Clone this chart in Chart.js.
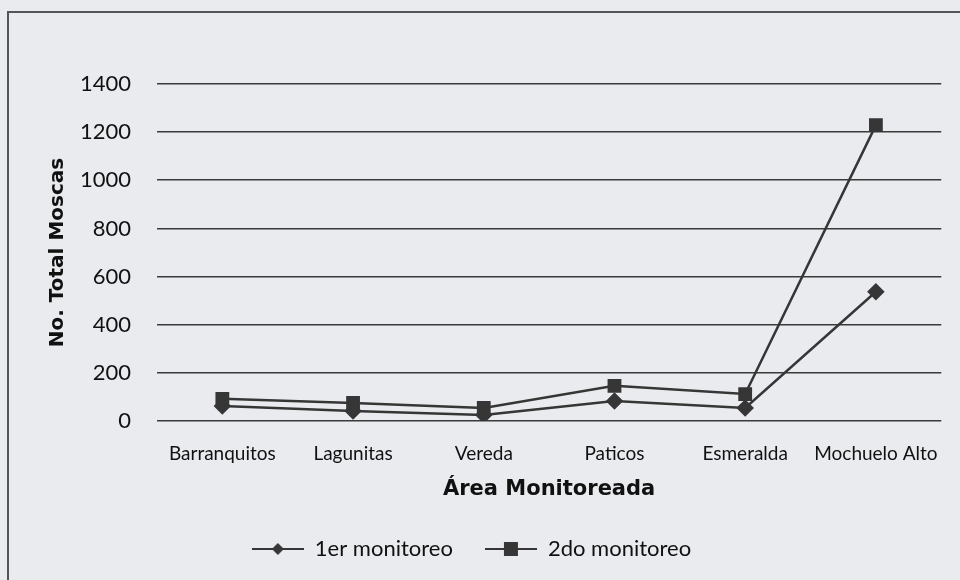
<!DOCTYPE html>
<html>
<head>
<meta charset="utf-8">
<script src="https://cdn.jsdelivr.net/npm/chart.js@4.4.1/dist/chart.umd.min.js"></script>
<style>
  html, body { margin: 0; padding: 0; background: #e9ebee; }
  #marco { position: absolute; left: 0; top: 0; width: 960px; height: 580px; }
  #borde { position: absolute; left: 7px; top: 11px; width: 960px; height: 580px;
           border-left: 2px solid #555; border-top: 2px solid #555; }
  canvas { position: absolute; left: 0; top: 0; }
</style>
</head>
<body>
<div id="marco">
  <div id="borde"></div>
  <canvas id="graficoMoscas" width="960" height="580"></canvas>
</div>
<script>
// datos
const areas = ['Barranquitos', 'Lagunitas', 'Vereda', 'Paticos', 'Esmeralda', 'Mochuelo Alto'];
const primerMonitoreo = [62, 42, 25, 83, 54, 537];
const segundoMonitoreo = [92, 75, 54, 146, 112, 1229];
const ticksY = [0, 200, 400, 600, 800, 1000, 1200, 1400];

const colorLinea = '#363636';

// icono de leyenda: linea con marcador
function iconoLeyenda(forma){
    const c = document.createElement('canvas');
    c.width = 52; c.height = 16;
    const g = c.getContext('2d');
    g.strokeStyle = colorLinea;
    g.fillStyle = colorLinea;
    g.lineWidth = 2;
    g.beginPath();
    g.moveTo(0, 8); g.lineTo(52, 8);
    g.stroke();
    g.beginPath();
    if (forma === 'rombo') {
        g.moveTo(26, 2); g.lineTo(32, 8); g.lineTo(26, 14); g.lineTo(20, 8);
    } else {
        g.rect(19, 1, 14, 14);
    }
    g.closePath();
    g.fill();
    return c;
}

const ctxMoscas = document.getElementById('graficoMoscas');

let graficoMoscas = new Chart(ctxMoscas, {
    type: 'line',
    data: {
        labels: areas,
        datasets: [{
            label: '1er monitoreo',
            data: primerMonitoreo,
            borderColor: colorLinea,
            backgroundColor: colorLinea,
            borderWidth: 2.5,
            pointStyle: 'rectRot',
            pointRadius: 7,
            fill: false,
            tension: 0
        }, {
            label: '2do monitoreo',
            data: segundoMonitoreo,
            borderColor: colorLinea,
            backgroundColor: colorLinea,
            borderWidth: 2.5,
            pointStyle: 'rect',
            pointRadius: 8,
            fill: false,
            tension: 0
        }]
    },
    options: {
        responsive: false,
        animation: false,
        layout: {
            padding: { top: 84, right: 17, left: 0, bottom: 10 }
        },
        plugins: {
            tooltip: { enabled: false },
            legend: {
                position: 'bottom',
                labels: {
                    color: '#111',
                    font: { family: 'Lato', size: 22 },
                    usePointStyle: true,
                    pointStyleWidth: 52,
                    padding: 32,
                    generateLabels: function(chart){
                        return chart.data.datasets.map((ds, i) => ({
                            text: ds.label,
                            datasetIndex: i,
                            pointStyle: iconoLeyenda(i === 0 ? 'rombo' : 'cuadro'),
                            fillStyle: colorLinea,
                            strokeStyle: colorLinea,
                            lineWidth: 0,
                            fontColor: '#111',
                            hidden: false
                        }));
                    }
                }
            }
        },
        scales: {
            x: {
                offset: true,
                grid: { display: false, drawTicks: false },
                border: { display: false },
                ticks: {
                    color: '#111',
                    font: { family: 'Lato', size: 19 },
                    padding: 21,
                    maxRotation: 0,
                    autoSkip: false
                },
                title: {
                    display: true,
                    text: 'Área Monitoreada',
                    color: '#111',
                    font: { family: 'DejaVu Sans', size: 21, weight: 'bold' },
                    padding: { top: 0 }
                },
                afterFit: function(scale){ scale.height = 85; }
            },
            y: {
                min: 0,
                max: 1400,
                afterBuildTicks: function(scale){
                    scale.ticks = ticksY.map(v => ({ value: v }));
                },
                grid: { color: '#3a3a3a', lineWidth: 1.6, drawTicks: false },
                border: { display: false },
                ticks: {
                    color: '#111',
                    font: { family: 'Lato', size: 22 },
                    padding: 26,
                    callback: function(valor){ return String(valor); }
                },
                title: {
                    display: true,
                    text: 'No. Total Moscas',
                    color: '#111',
                    font: { family: 'DejaVu Sans', size: 20, weight: 'bold' },
                    padding: { top: 46, bottom: 2 }
                },
                afterFit: function(scale){ scale.width = 157; }
            }
        }
    }
});
</script>
</body>
</html>
